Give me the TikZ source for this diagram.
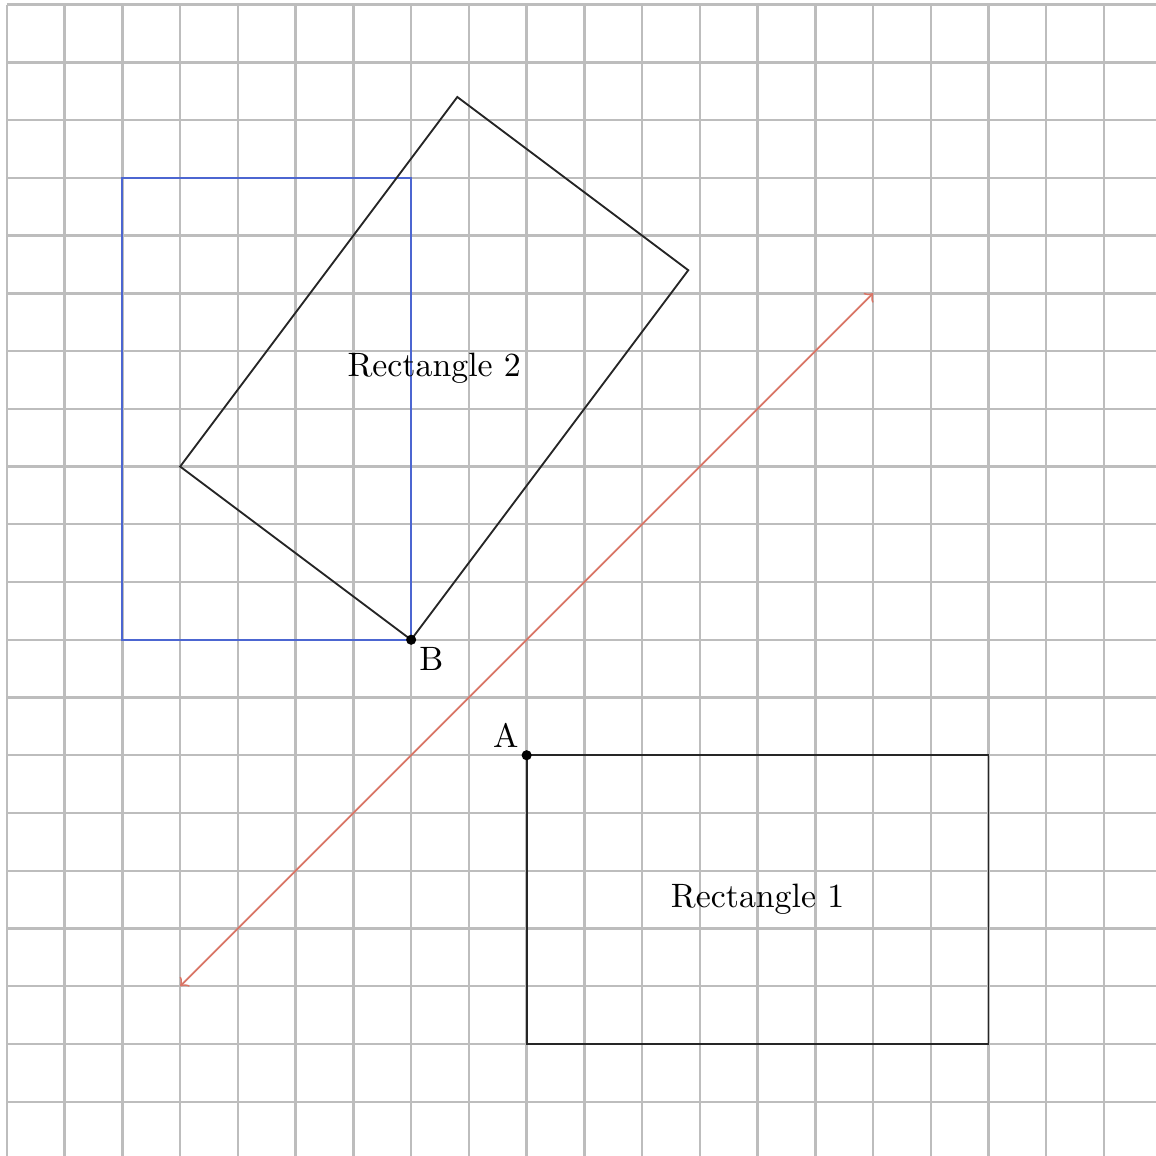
\documentclass[tikz,border=0pt]{standalone}
\usepackage{xcolor}
\definecolor{gridline}{rgb}{0.74,0.74,0.74}
\definecolor{mirrordraw}{rgb}{0.85,0.46,0.40}
\definecolor{imagedraw}{rgb}{0.30,0.40,0.82}
\definecolor{rectdraw}{rgb}{0.15,0.15,0.15}
\usepackage{tikz}

\begin{document}
\begin{tikzpicture}[
  scale=0.6,
  gridlines/.style ={draw=gridline, line width=0.7pt},
  rectbox/.style   ={draw=rectdraw, line width=0.55pt},
  imagebox/.style  ={draw=imagedraw, line width=0.6pt},
  mirror/.style    ={<->, draw=mirrordraw, line width=0.55pt},
  pointdot/.style  ={circle, fill=black, inner sep=0pt, minimum size=3pt}
]

\useasboundingbox (-0.12,-0.94) rectangle (19.9,19.08);
\clip (-0.12,-0.94) rectangle (19.9,19.08);
\draw[gridlines] (0,-1) grid (20,19);

\coordinate (A)  at (9,6);
\coordinate (B)  at (7,8);
\coordinate (m1) at (3,2);
\coordinate (m2) at (15,14);

\draw[rectbox] (A) rectangle (17,1);
\node (r1) at (13,3.5) {Rectangle 1};

\draw[imagebox] (2,8) rectangle (B |- 0,16);
% same box, turned about B
\draw[rectbox, rotate around={-36.87:(B)}] (2,8) rectangle (7,16);
\node (r2) at (7.4,12.7) {Rectangle 2};

\draw[mirror] (m1) -- (m2);

\node[pointdot, label={[inner sep=1pt]above left:A}] (pa) at (A) {};
\node[pointdot, label={[inner sep=1pt]below right:B}] (pb) at (B) {};

\end{tikzpicture}
\end{document}
